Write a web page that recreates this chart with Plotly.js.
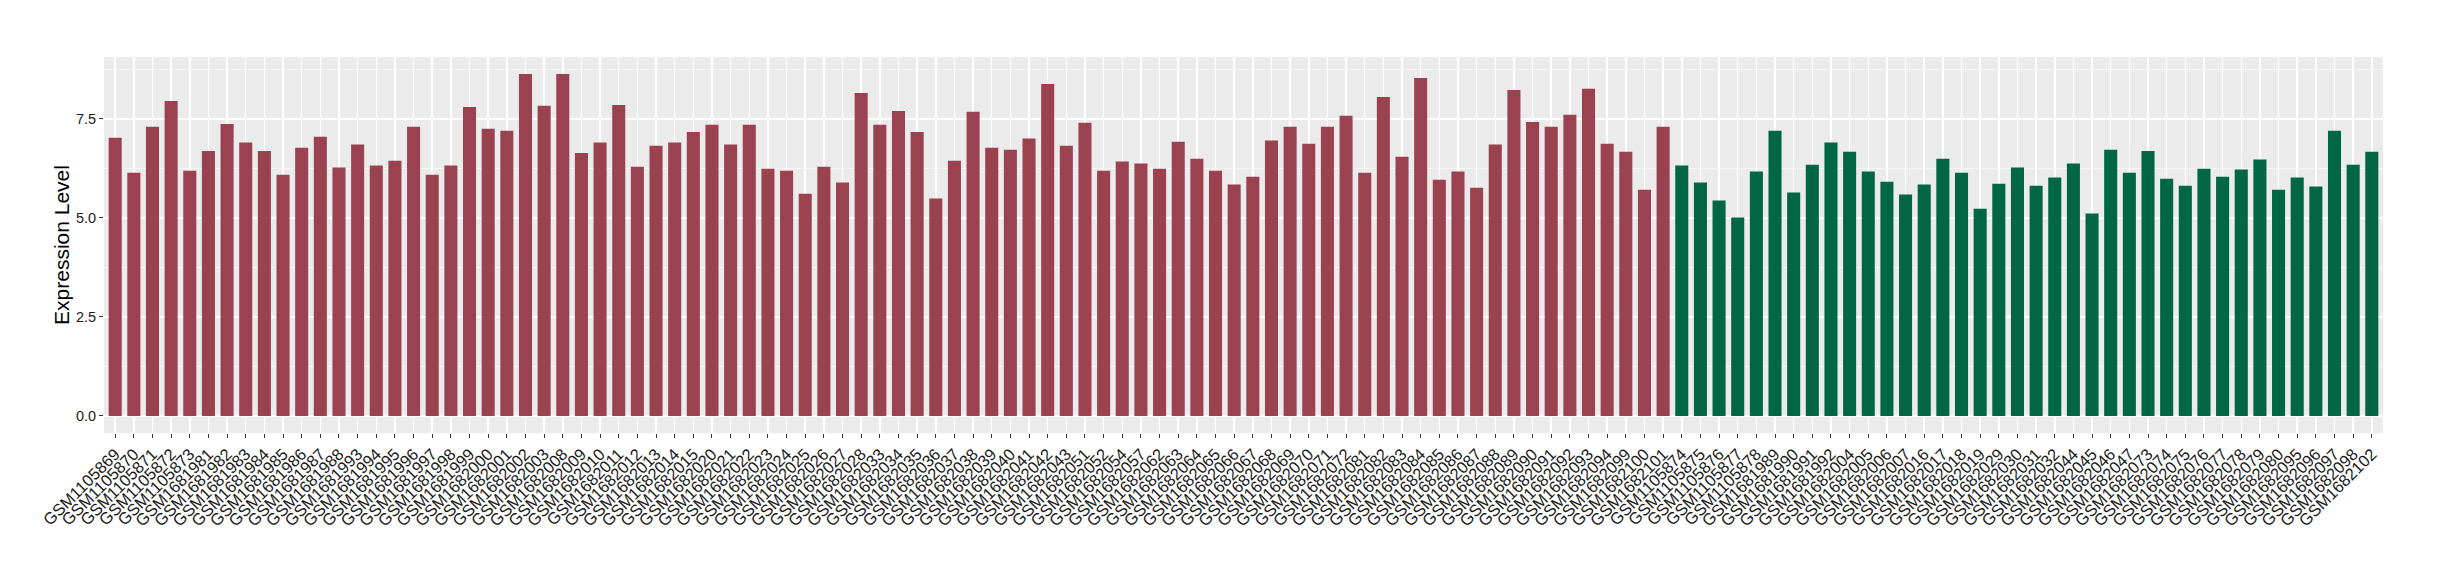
<!DOCTYPE html>
<html>
<head>
<meta charset="utf-8">
<script src="https://cdn.plot.ly/plotly-3.0.1.min.js"></script>
<style>html,body{margin:0;padding:0;background:#fff;}#chart{width:2440px;height:580px;}</style>
</head>
<body>
<div id="chart"></div>
<script>
const redSamples = [
  "GSM1105869","GSM1105870","GSM1105871","GSM1105872","GSM1105873",
  "GSM1681981","GSM1681982","GSM1681983","GSM1681984","GSM1681985","GSM1681986","GSM1681987","GSM1681988",
  "GSM1681993","GSM1681994","GSM1681995","GSM1681996","GSM1681997","GSM1681998","GSM1681999",
  "GSM1682000","GSM1682001","GSM1682002","GSM1682003",
  "GSM1682008","GSM1682009","GSM1682010","GSM1682011","GSM1682012","GSM1682013","GSM1682014","GSM1682015",
  "GSM1682020","GSM1682021","GSM1682022","GSM1682023","GSM1682024","GSM1682025","GSM1682026","GSM1682027","GSM1682028",
  "GSM1682033","GSM1682034","GSM1682035","GSM1682036","GSM1682037","GSM1682038","GSM1682039","GSM1682040","GSM1682041","GSM1682042","GSM1682043",
  "GSM1682051","GSM1682052","GSM1682054","GSM1682057",
  "GSM1682062","GSM1682063","GSM1682064","GSM1682065","GSM1682066","GSM1682067","GSM1682068","GSM1682069","GSM1682070","GSM1682071","GSM1682072",
  "GSM1682081","GSM1682082","GSM1682083","GSM1682084","GSM1682085","GSM1682086","GSM1682087","GSM1682088","GSM1682089","GSM1682090","GSM1682091","GSM1682092","GSM1682093","GSM1682094",
  "GSM1682099","GSM1682100","GSM1682101"
];
const redValues = [
  7.02,6.14,7.30,7.95,6.19,6.69,7.37,6.90,6.69,6.09,6.77,7.05,6.27,6.85,6.32,6.44,7.30,6.09,6.32,7.80,
  7.25,7.20,8.63,7.83,8.63,6.64,6.90,7.85,6.29,6.82,6.90,7.17,7.35,6.85,7.35,6.24,6.19,5.61,6.29,5.89,
  8.15,7.35,7.70,7.17,5.49,6.44,7.68,6.77,6.72,7.00,8.38,6.82,7.40,6.19,6.42,6.37,6.24,6.92,6.49,6.19,
  5.84,6.04,6.95,7.30,6.87,7.30,7.58,6.14,8.05,6.54,8.53,5.96,6.17,5.76,6.85,8.23,7.42,7.30,7.60,8.26,
  6.87,6.67,5.71,7.30
];
const greenSamples = [
  "GSM1105874","GSM1105875","GSM1105876","GSM1105877","GSM1105878",
  "GSM1681989","GSM1681990","GSM1681991","GSM1681992",
  "GSM1682004","GSM1682005","GSM1682006","GSM1682007",
  "GSM1682016","GSM1682017","GSM1682018","GSM1682019",
  "GSM1682029","GSM1682030","GSM1682031","GSM1682032",
  "GSM1682044","GSM1682045","GSM1682046","GSM1682047",
  "GSM1682073","GSM1682074","GSM1682075","GSM1682076","GSM1682077","GSM1682078","GSM1682079","GSM1682080",
  "GSM1682095","GSM1682096","GSM1682097","GSM1682098","GSM1682102"
];
const greenValues = [
  6.32,5.89,5.44,5.01,6.17,7.20,5.64,6.34,6.90,6.67,6.17,5.91,5.59,5.84,6.49,6.14,5.23,5.86,6.27,5.81,
  6.02,6.37,5.11,6.72,6.14,6.69,5.99,5.81,6.24,6.04,6.22,6.47,5.71,6.02,5.79,7.20,6.34,6.67
];
const yTickVals = [0, 2.5, 5, 7.5];
const yTickText = ["0.0", "2.5", "5.0", "7.5"];

const allSamples = redSamples.concat(greenSamples);
const nCat = allSamples.length;

const traces = [
  {type: "bar", x: redSamples, y: redValues, width: 0.7,
   marker: {color: "#9B4251", line: {width: 0}}, hoverinfo: "x+y", showlegend: false},
  {type: "bar", x: greenSamples, y: greenValues, width: 0.7,
   marker: {color: "#006644", line: {width: 0}}, hoverinfo: "x+y", showlegend: false}
];

const layout = {
  width: 2440, height: 580,
  margin: {l: 104, r: 57, t: 57, b: 147, pad: 0},
  paper_bgcolor: "#FFFFFF",
  plot_bgcolor: "#EBEBEB",
  barmode: "overlay",
  font: {family: "Liberation Sans, Arial, sans-serif", color: "#333333"},
  xaxis: {
    type: "category",
    categoryorder: "array",
    categoryarray: allSamples,
    range: [-0.6, nCat - 1 + 0.6],
    tickmode: "array", tickvals: allSamples, ticktext: allSamples,
    tickangle: -45,
    ticks: "outside", ticklen: 4, tickwidth: 1, tickcolor: "#333333",
    tickfont: {size: 16.5, color: "#1a1a1a", family: "Liberation Sans, Arial, sans-serif"},
    showgrid: true, gridcolor: "#FFFFFF", gridwidth: 1.5,
    showline: false, zeroline: false, automargin: false, fixedrange: true
  },
  yaxis: {
    range: [-0.43, 9.06],
    tickmode: "array", tickvals: yTickVals, ticktext: yTickText,
    ticks: "outside", ticklen: 4, tickwidth: 1, tickcolor: "#333333",
    tickfont: {size: 14.5, color: "#1a1a1a"},
    showgrid: true, gridcolor: "#FFFFFF", gridwidth: 2,
    minor: {dtick: 1.25, tick0: 0, showgrid: true, gridcolor: "#F7F7F7", gridwidth: 1, ticks: ""},
    zeroline: false, showline: false, automargin: false, fixedrange: true,
    title: {text: "Expression Level", font: {size: 21, color: "#000000"}, standoff: 0}
  }
};

Plotly.newPlot("chart", traces, layout, {displayModeBar: false, staticPlot: true});
</script>
</body>
</html>
